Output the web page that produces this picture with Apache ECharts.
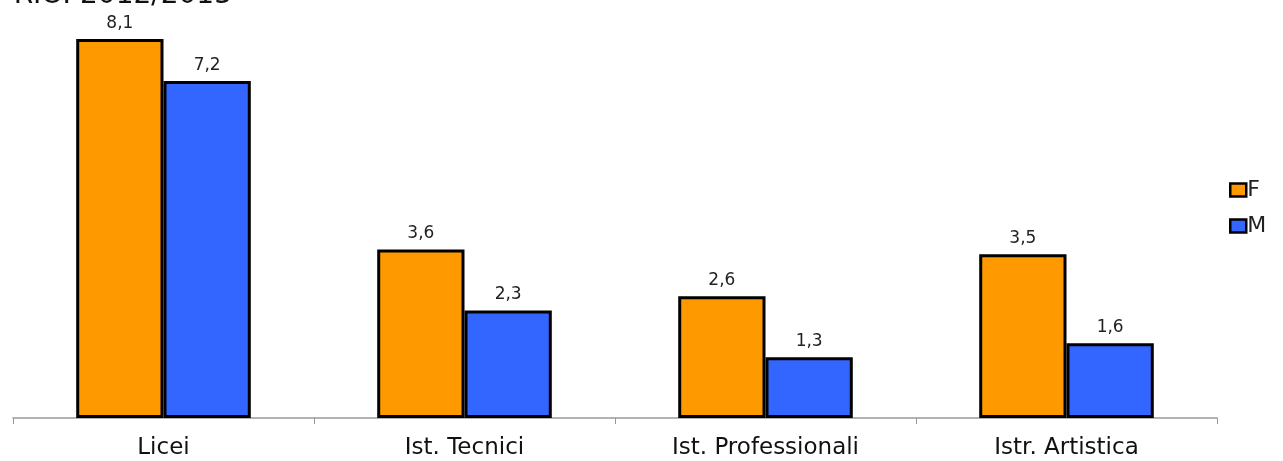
<!DOCTYPE html>
<html>
<head>
<meta charset="utf-8">
<script src="https://cdn.jsdelivr.net/npm/echarts@6/dist/echarts.min.js"></script>
<style>html,body{margin:0;padding:0;background:#fff}#c{width:1283px;height:461px}</style>
</head>
<body>
<div id="c"></div>
<script>
var categories = ['Licei', 'Ist. Tecnici', 'Ist. Professionali', 'Istr. Artistica'];
var seriesF = [8.1, 3.6, 2.6, 3.5];
var seriesM = [7.2, 2.3, 1.3, 1.6];
var titleText = 'RIO. 2012/2013';

var chart = echarts.init(document.getElementById('c'));
var fmt = function (p) { return String(p.value).replace('.', ','); };
var labelCfg = { show: true, position: 'top', distance: 7, formatter: fmt,
  fontFamily: 'DejaVu Sans', fontSize: 17, color: '#222' };
chart.setOption({
  animation: false,
  textStyle: { fontFamily: 'DejaVu Sans' },
  graphic: [{
    type: 'text',
    style: { x: 232, y: 10, text: titleText, textAlign: 'right', textVerticalAlign: 'bottom',
      fontFamily: 'DejaVu Sans', fontSize: 28, fill: '#111' }
  }],
  legend: {
    orient: 'vertical', left: 1229, top: 179, padding: 0, itemGap: 14,
    itemWidth: 16, itemHeight: 13, icon: 'rect',
    itemStyle: { borderColor: '#000', borderWidth: 2.5 },
    textStyle: { fontFamily: 'DejaVu Sans', fontSize: 22, color: '#222', padding: [0, 0, 0, -4] },
    data: ['F', 'M']
  },
  grid: { left: 13, right: 66, top: 39, bottom: 43, containLabel: false },
  xAxis: {
    type: 'category', data: categories, boundaryGap: true,
    axisLine: { lineStyle: { color: '#999', width: 1.5 } },
    axisTick: { show: true, length: 6, lineStyle: { color: '#999' } },
    axisLabel: { margin: 19, fontFamily: 'DejaVu Sans', fontSize: 23, color: '#111' }
  },
  yAxis: { type: 'value', min: 0, max: 8.1, show: false, splitLine: { show: false } },
  series: [
    { name: 'F', type: 'bar', data: seriesF, barGap: '0%', barCategoryGap: '42%',
      itemStyle: { color: '#FF9900', borderColor: '#000', borderWidth: 3 }, label: labelCfg },
    { name: 'M', type: 'bar', data: seriesM, barGap: '0%', barCategoryGap: '42%',
      itemStyle: { color: '#3366FF', borderColor: '#000', borderWidth: 3 }, label: labelCfg }
  ]
});
</script>
</body>
</html>
